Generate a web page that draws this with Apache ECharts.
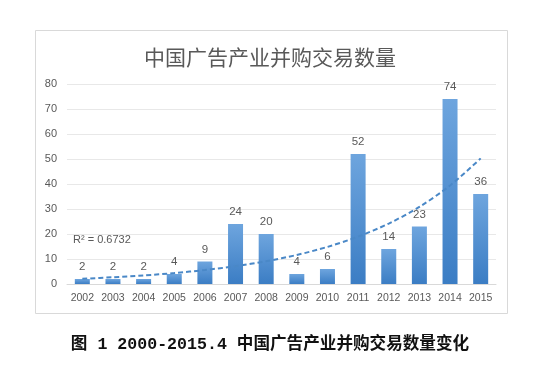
<!DOCTYPE html>
<html>
<head>
<meta charset="utf-8">
<script src="https://cdn.jsdelivr.net/npm/echarts@6/dist/echarts.min.js"></script>
<style>
html,body{margin:0;padding:0;background:#fff;}
#c{width:540px;height:366px;}
</style>
</head>
<body>
<div id="c"></div>
<script>
const years = ['2002','2003','2004','2005','2006','2007','2008','2009','2010','2011','2012','2013','2014','2015'];
const deals = [2,2,2,4,9,24,20,4,6,52,14,23,74,36];
const trend = [2.10,2.69,3.43,4.38,5.59,7.13,9.10,11.62,14.84,18.94,24.17,30.85,39.38,50.25];
const yTicks = [0,10,20,30,40,50,60,70,80];
const chartTitle = '中国广告产业并购交易数量';
const caption = '图 1 2000-2015.4 中国广告产业并购交易数量变化';
const r2Text = 'R² = 0.6732';

const chart = echarts.init(document.getElementById('c'));
chart.setOption({
  animation: false,
  backgroundColor: '#fff',
  title: {
    text: chartTitle,
    left: 'center', top: 42,
    textStyle: {fontFamily: 'Noto Sans CJK SC', fontSize: 21, fontWeight: 'normal', color: '#595959'}
  },
  grid: {left: 67, right: 44, top: 84, bottom: 82},
  xAxis: {
    type: 'category', data: years,
    axisLine: {lineStyle: {color: '#d9d9d9'}},
    axisTick: {show: false},
    axisLabel: {color: '#595959', fontSize: 10.5, fontFamily: 'Liberation Sans', margin: 9}
  },
  yAxis: {
    type: 'value', min: yTicks[0], max: yTicks[yTicks.length-1], interval: 10,
    axisLine: {show: false}, axisTick: {show: false},
    splitLine: {lineStyle: {color: '#e8e8e8'}},
    axisLabel: {color: '#595959', fontSize: 11, fontFamily: 'Liberation Sans', margin: 10}
  },
  series: [
    {
      type: 'bar', data: deals, barWidth: 15,
      itemStyle: {color: new echarts.graphic.LinearGradient(0,0,0,1,[{offset:0,color:'#6ea5de'},{offset:1,color:'#3b7dc4'}])},
      label: {show: true, position: 'top', distance: 6, color: '#595959', fontSize: 11.5, fontFamily: 'Liberation Sans'}
    },
    {
      type: 'line', data: trend, smooth: 0.3, symbol: 'none',
      lineStyle: {color: '#4a88c7', width: 2, type: [5, 3]},
      z: 5
    }
  ],
  graphic: [
    {type: 'rect', shape: {x: 35.5, y: 30.5, width: 472, height: 283}, style: {fill: 'none', stroke: '#d9d9d9', lineWidth: 1}, z: -1},
    {type: 'text', left: 73, top: 234, style: {text: r2Text, fill: '#595959', fontSize: 11, fontFamily: 'Liberation Sans'}},
    {type: 'text', left: 'center', top: 337, style: {text: caption, fill: '#111', fontSize: 16.6, fontWeight: 'bold', fontFamily: '"Liberation Mono", "Noto Sans CJK SC"'}}
  ]
});
</script>
</body>
</html>
